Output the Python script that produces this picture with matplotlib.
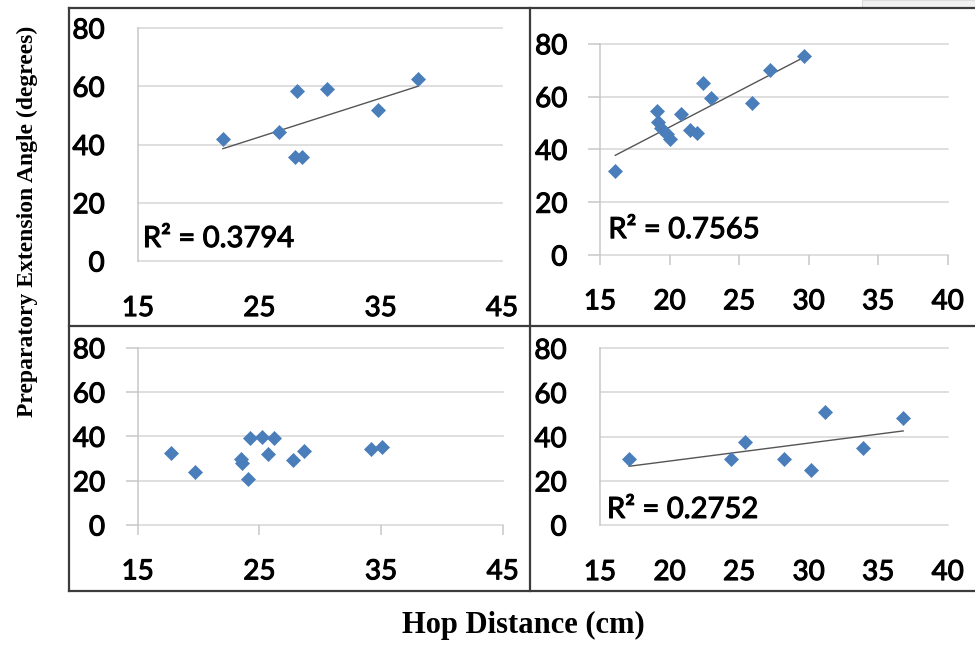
import numpy as np
import matplotlib
matplotlib.use("Agg")
import matplotlib.pyplot as plt
import matplotlib.patheffects as pe
from matplotlib.lines import Line2D
from matplotlib.patches import Rectangle

# ---- data ----
p1_x = [22.0, 26.6, 28.1, 30.6, 27.9, 28.5, 34.8, 38.1]
p1_y = [41.8, 44.4, 58.5, 59.1, 35.6, 35.6, 51.8, 62.5]

p2_x = [16.1, 19.1, 19.2, 19.4, 19.8, 20.0, 20.8, 21.5, 22.0, 22.4, 23.0, 25.9, 27.2, 29.7]
p2_y = [31.8, 54.6, 50.3, 48.0, 46.0, 44.0, 53.4, 47.5, 46.1, 65.2, 59.3, 57.7, 70.0, 75.3]

p3_x = [17.7, 19.7, 23.5, 23.6, 24.1, 24.2, 25.2, 25.7, 26.2, 27.8, 28.7, 34.2, 35.1]
p3_y = [32.6, 24.1, 30.0, 28.0, 20.8, 39.1, 39.6, 32.1, 39.1, 29.5, 33.5, 34.2, 35.3]

p4_x = [17.1, 24.4, 25.4, 28.2, 30.2, 31.2, 33.9, 36.8]
p4_y = [29.7, 29.7, 37.4, 29.9, 24.9, 51.3, 34.7, 48.6]

y_ticks = [0, 20, 40, 60, 80]
x_ticks_wide = [15, 25, 35, 45]
x_ticks_narrow = [15, 20, 25, 30, 35, 40]

r2_labels = ["R\u00b2 = 0.3794", "R\u00b2 = 0.7565", None, "R\u00b2 = 0.2752"]

y_label = "Preparatory Extension Angle (degrees)"
x_label = "Hop Distance (cm)"

# ---- style ----
W, H = 975, 647
MARK = "#4A7EBB"
GRID = "#d9d9d9"
AXC = "#c8c8c8"
TREND = "#555555"
BOX = "#3c3c3c"
TICKFONT = "Lato"
THICK = [pe.withStroke(linewidth=0.8, foreground="black")]

fig = plt.figure(figsize=(W / 100, H / 100), dpi=100)
fig.patch.set_facecolor("white")


def px_rect(x0, y0, x1, y1):
    return [x0 / W, 1 - y1 / H, (x1 - x0) / W, (y1 - y0) / H]


def panel(rect, xs, ys, xticks, r2, r2pos, ticks_out):
    ax = fig.add_axes(px_rect(*rect))
    ax.set_xlim(xticks[0], xticks[-1])
    ax.set_ylim(0, 80)
    for s in ["top", "right", "bottom"]:
        ax.spines[s].set_visible(False)
    ax.spines["left"].set_color(AXC)
    ax.spines["left"].set_linewidth(1.1)
    ax.spines["left"].set_zorder(1)
    ax.set_facecolor("none")
    for v in y_ticks:
        ax.axhline(v, color=GRID, lw=1.2, zorder=0, clip_on=False)
    ax.set_xticks(xticks)
    ax.set_yticks(y_ticks)
    if ticks_out:
        ax.tick_params(axis="y", length=8.5, width=1.1, color=AXC, pad=15, direction="out")
        ax.tick_params(axis="x", length=7, width=1.1, color=AXC, pad=17, direction="out")
    else:
        ax.tick_params(axis="y", length=0, pad=24)
        ax.tick_params(axis="x", length=0, pad=24.5)
    for lab in ax.get_xticklabels() + ax.get_yticklabels():
        lab.set_fontfamily(TICKFONT)
        lab.set_fontsize(20)
        lab.set_color("black")
        lab.set_path_effects(THICK)
    ax.plot(xs, ys, linestyle="none", marker="D", markersize=7.6,
            color=MARK, markeredgecolor=MARK, markeredgewidth=0.5, zorder=3)
    if r2 is not None:
        k, b = np.polyfit(xs, ys, 1)
        xx = np.array([min(xs), max(xs)])
        ax.plot(xx, k * xx + b, color=TREND, lw=1.0, zorder=2)
        ax.text(r2pos[0], r2pos[1], r2, fontfamily=TICKFONT,
                fontsize=21, color="black", va="baseline", ha="left",
                path_effects=THICK)
    return ax


panel((138, 28, 502, 261), p1_x, p1_y, x_ticks_wide, r2_labels[0], (15.4, 4.8), False)
panel((600, 43.7, 947.7, 255), p2_x, p2_y, x_ticks_narrow, r2_labels[1], (15.6, 6.4), True)
panel((137.7, 347.7, 502.7, 525), p3_x, p3_y, x_ticks_wide, r2_labels[2], None, True)
panel((600, 348.3, 947.7, 525), p4_x, p4_y, x_ticks_narrow, r2_labels[3], (15.5, 3.2), False)


def fline(x0, y0, x1, y1, **kw):
    fig.add_artist(Line2D([x0 / W, x1 / W], [1 - y0 / H, 1 - y1 / H],
                          transform=fig.transFigure, **kw))


# faint fragment at top right
fig.add_artist(Rectangle((862 / W, 1 - 7 / H), (W - 862) / W, 7 / H,
                         transform=fig.transFigure, facecolor="#f1f1f1",
                         edgecolor="#dcdcdc", lw=0.8))

kw = dict(color=BOX, lw=1.6, solid_capstyle="projecting")
fline(69, 7.5, 975, 7.5, **kw)
fline(69, 7.5, 69, 591, **kw)
fline(69, 591, 975, 591, **kw)
fline(530, 7.5, 530, 591, **kw)
fline(69, 325.5, 975, 325.5, **kw)

fig.text(27.5 / W, 1 - 221.5 / H, y_label, rotation=90, ha="center", va="center",
         fontfamily="Liberation Serif", fontweight="bold", fontsize=17, color="black")
fig.text(523.5 / W, 1 - 633 / H, x_label, ha="center", va="baseline",
         fontfamily="Liberation Serif", fontweight="bold", fontsize=22, color="black")

fig.savefig("out.png", dpi=100, facecolor="white")
